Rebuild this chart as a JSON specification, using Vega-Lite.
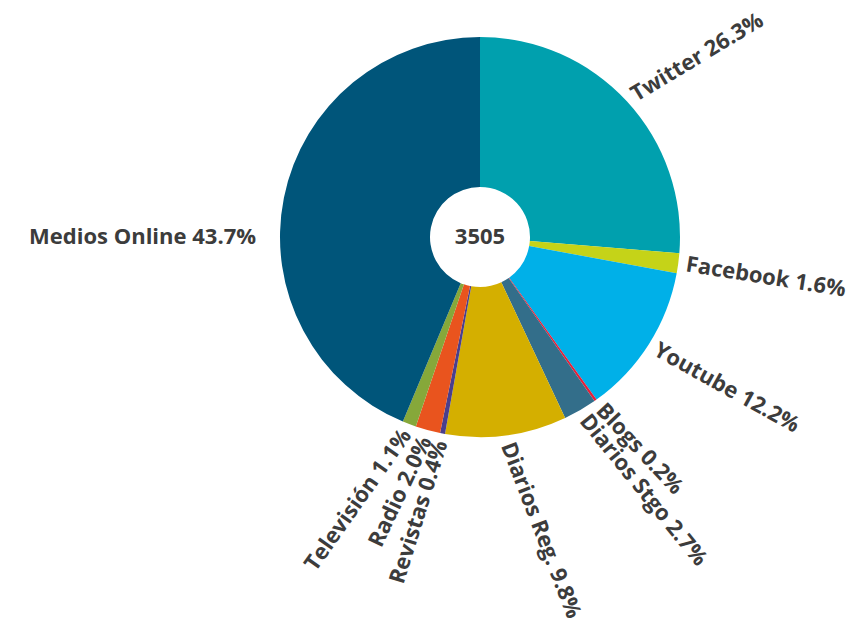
{
  "$schema": "https://vega.github.io/schema/vega-lite/v6.json",
  "width": 760,
  "height": 460,
  "padding": {"left": 100, "top": 7, "right": 7, "bottom": 163},
  "autosize": "none",
  "background": "white",
  "config": {"view": {"stroke": null}},
  "datasets": {
    "medios": [
      {"medio": "Twitter", "pct": 26.3},
      {"medio": "Facebook", "pct": 1.6},
      {"medio": "Youtube", "pct": 12.2},
      {"medio": "Blogs", "pct": 0.2},
      {"medio": "Diarios Stgo", "pct": 2.7},
      {"medio": "Diarios Reg.", "pct": 9.8},
      {"medio": "Revistas", "pct": 0.4},
      {"medio": "Radio", "pct": 2.0},
      {"medio": "Televisión", "pct": 1.1},
      {"medio": "Medios Online", "pct": 43.7}
    ],
    "total": [{"n": 3505}]
  },
  "layer": [
    {
      "data": {"name": "medios"},
      "transform": [
        {"stack": "pct", "groupby": [], "as": ["v0", "v1"]}
      ],
      "mark": {"type": "arc", "outerRadius": 200, "innerRadius": 50},
      "encoding": {
        "theta": {"field": "v0", "type": "quantitative", "scale": {"domain": [0, 100]}},
        "theta2": {"field": "v1"},
        "color": {
          "field": "medio", "type": "nominal", "legend": null,
          "scale": {
            "domain": ["Twitter", "Facebook", "Youtube", "Blogs", "Diarios Stgo", "Diarios Reg.", "Revistas", "Radio", "Televisión", "Medios Online"],
            "range": ["#00A0AE", "#C5D318", "#00B0E8", "#E5203A", "#336E8A", "#D4AF00", "#4A3F8C", "#E9541E", "#86A83A", "#00557A"]
          }
        }
      }
    },
    {
      "data": {"name": "medios"},
      "transform": [
        {"stack": "pct", "groupby": [], "as": ["v0", "v1"]},
        {"calculate": "(datum.v0 + datum.v1) / 2", "as": "mid"},
        {"filter": "datum.mid < 50"},
        {"calculate": "(datum.mid * 3.6 - 90) * 0.8 + 3", "as": "ang"},
        {"calculate": "datum.medio + ' ' + format(datum.pct, '.1f') + '%'", "as": "etiqueta"}
      ],
      "mark": {"type": "text", "radius": 208, "align": "left", "baseline": "middle", "font": "Open Sans", "fontWeight": "bold", "fontSize": 22, "color": "#3c3c3c"},
      "encoding": {
        "theta": {"field": "mid", "type": "quantitative"},
        "angle": {"field": "ang", "type": "quantitative", "scale": null},
        "text": {"field": "etiqueta"}
      }
    },
    {
      "data": {"name": "medios"},
      "transform": [
        {"stack": "pct", "groupby": [], "as": ["v0", "v1"]},
        {"calculate": "(datum.v0 + datum.v1) / 2", "as": "mid"},
        {"filter": "datum.mid >= 50 && datum.mid < 75"},
        {"calculate": "(datum.mid * 3.6 - 270) * 1.8 + 70", "as": "ang"},
        {"calculate": "datum.medio + ' ' + format(datum.pct, '.1f') + '%'", "as": "etiqueta"}
      ],
      "mark": {"type": "text", "radius": 208, "align": "right", "baseline": "middle", "font": "Open Sans", "fontWeight": "bold", "fontSize": 22, "color": "#3c3c3c"},
      "encoding": {
        "theta": {"field": "mid", "type": "quantitative"},
        "angle": {"field": "ang", "type": "quantitative", "scale": null},
        "text": {"field": "etiqueta"}
      }
    },
    {
      "data": {"name": "medios"},
      "transform": [
        {"stack": "pct", "groupby": [], "as": ["v0", "v1"]},
        {"calculate": "(datum.v0 + datum.v1) / 2", "as": "mid"},
        {"filter": "datum.mid >= 75"},
        {"calculate": "datum.medio + ' ' + format(datum.pct, '.1f') + '%'", "as": "etiqueta"}
      ],
      "mark": {"type": "text", "radius": 208, "align": "right", "baseline": "middle", "dx": -20, "dy": 41, "font": "Open Sans", "fontWeight": "bold", "fontSize": 22, "color": "#3c3c3c"},
      "encoding": {
        "theta": {"field": "mid", "type": "quantitative"},
        "text": {"field": "etiqueta"}
      }
    },
    {
      "data": {"name": "total"},
      "mark": {"type": "text", "radius": 0, "align": "center", "baseline": "middle", "font": "Open Sans", "fontWeight": "bold", "fontSize": 22, "color": "#3c3c3c"},
      "encoding": {
        "theta": {"value": 0},
        "text": {"field": "n", "type": "quantitative", "format": "d"}
      }
    }
  ]
}
